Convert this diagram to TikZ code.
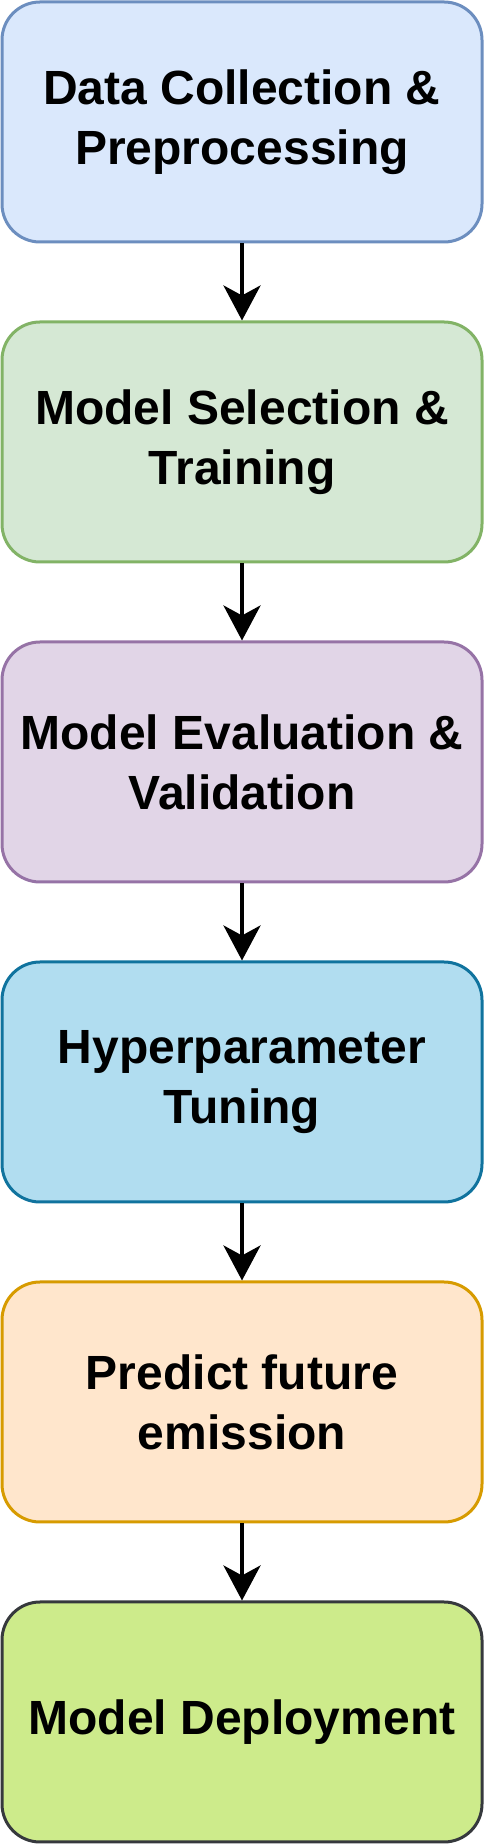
\documentclass[tikz,border=0pt]{standalone}
\usepackage{fontspec}
\setmainfont{Liberation Sans}
\usetikzlibrary{arrows.meta}
\definecolor{collectfill}{RGB}{218,232,252}
\definecolor{collectline}{RGB}{108,142,191}
\definecolor{trainfill}{RGB}{213,232,212}
\definecolor{trainline}{RGB}{130,179,102}
\definecolor{evalfill}{RGB}{225,213,231}
\definecolor{evalline}{RGB}{150,115,166}
\definecolor{tunefill}{RGB}{177,221,240}
\definecolor{tuneline}{RGB}{16,115,158}
\definecolor{predictfill}{RGB}{255,230,204}
\definecolor{predictline}{RGB}{215,155,0}
\definecolor{deployfill}{RGB}{205,235,139}
\definecolor{deployline}{RGB}{54,57,61}

\begin{document}
\begin{tikzpicture}[x=1pt, y=1pt,
  stage/.style={draw, rounded corners=19pt, line width=1.5pt, minimum width=240pt, minimum height=120pt, inner sep=0pt, align=center, font=\fontsize{24}{30}\selectfont\bfseries},
  flow/.style={line width=2pt, -{Stealth[length=17.5pt, width=18.5pt, inset=5pt]}}]
\useasboundingbox (0,0) rectangle (244,922);
\node[stage, fill=collectfill, draw=collectline] (collect) at (121,861) {Data Collection \&\\Preprocessing};
\node[stage, fill=trainfill, draw=trainline] (train) at (121,701) {Model Selection \&\\Training};
\node[stage, fill=evalfill, draw=evalline] (evaluate) at (121,541) {Model Evaluation \&\\Validation};
\node[stage, fill=tunefill, draw=tuneline] (tune) at (121,381) {Hyperparameter\\Tuning};
\node[stage, fill=predictfill, draw=predictline] (predict) at (121,221) {Predict future\\emission};
\node[stage, fill=deployfill, draw=deployline] (deploy) at (121,61) {Model Deployment};
\draw[flow] (collect.south) -- (train.north);
\draw[flow] (train.south) -- (evaluate.north);
\draw[flow] (evaluate.south) -- (tune.north);
\draw[flow] (tune.south) -- (predict.north);
\draw[flow] (predict.south) -- (deploy.north);
\end{tikzpicture}
\end{document}
